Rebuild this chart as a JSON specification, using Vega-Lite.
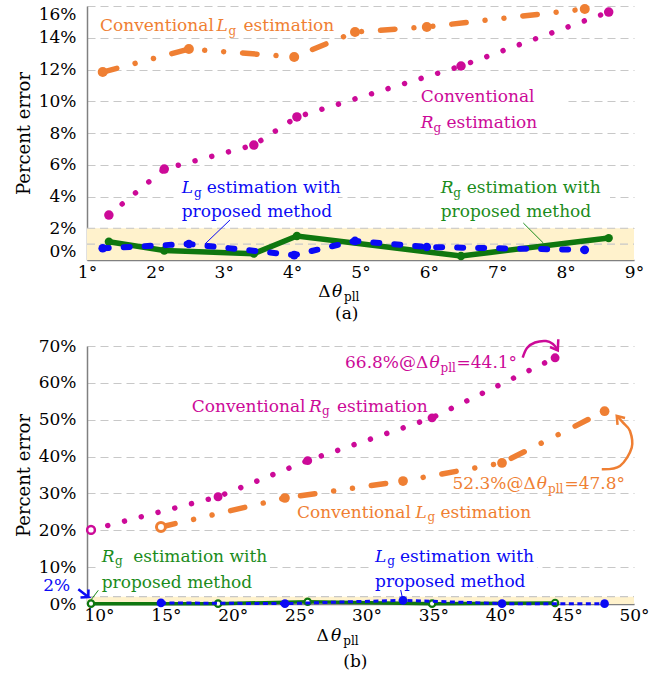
{
  "$schema": "https://vega.github.io/schema/vega-lite/v6.json",
  "background": "white",
  "padding": {"left": 15, "top": -2, "right": 5, "bottom": 0},
  "spacing": 11,
  "config": {
    "font": "DejaVu Serif",
    "view": {"stroke": null},
    "text": {"font": "DejaVu Serif"},
    "axis": {"labelFont": "DejaVu Serif", "labelFontSize": 17, "labelColor": "#000000", "titleFont": "DejaVu Serif", "titleFontSize": 18, "titleFontWeight": "normal", "titleColor": "#000000", "domainColor": "#808080", "domainWidth": 1.5, "ticks": false, "gridColor": "#c8c8c8", "gridDash": [8, 5], "gridWidth": 1.2, "labelFlush": false, "labelOverlap": false},
    "axisX": {"grid": false, "labelPadding": 4},
    "axisY": {"labelPadding": 11, "titlePadding": 5}
  },
  "datasets": {
    "top": [
      {"s": "og", "x": 1.23, "y": 11.84}, {"s": "og", "x": 2.49, "y": 13.29}, {"s": "og", "x": 4.03, "y": 12.79}, {"s": "og", "x": 4.92, "y": 14.36}, {"s": "og", "x": 5.97, "y": 14.68}, {"s": "og", "x": 8.28, "y": 15.81},
      {"s": "mg", "x": 1.32, "y": 2.83}, {"s": "mg", "x": 2.13, "y": 5.73}, {"s": "mg", "x": 3.44, "y": 7.24}, {"s": "mg", "x": 4.07, "y": 9.01}, {"s": "mg", "x": 6.47, "y": 12.22}, {"s": "mg", "x": 8.63, "y": 15.62},
      {"s": "bl", "x": 1.23, "y": 0.74}, {"s": "bl", "x": 2.49, "y": 1.01}, {"s": "bl", "x": 4.03, "y": 0.31}, {"s": "bl", "x": 4.92, "y": 1.2}, {"s": "bl", "x": 5.97, "y": 0.82}, {"s": "bl", "x": 8.28, "y": 0.64},
      {"s": "gr", "x": 1.32, "y": 1.15}, {"s": "gr", "x": 2.13, "y": 0.6}, {"s": "gr", "x": 3.44, "y": 0.4}, {"s": "gr", "x": 4.07, "y": 1.51}, {"s": "gr", "x": 6.47, "y": 0.25}, {"s": "gr", "x": 8.63, "y": 1.38}
    ],
    "bot": [
      {"s": "og", "x": 14.63, "y": 20.9}, {"s": "og", "x": 23.9, "y": 28.76}, {"s": "og", "x": 32.73, "y": 33.37}, {"s": "og", "x": 40.13, "y": 38.26}, {"s": "og", "x": 47.8, "y": 52.3},
      {"s": "mg", "x": 9.4, "y": 20.1}, {"s": "mg", "x": 18.9, "y": 29.1}, {"s": "mg", "x": 25.6, "y": 38.9}, {"s": "mg", "x": 34.9, "y": 50.5}, {"s": "mg", "x": 44.1, "y": 66.8},
      {"s": "bl", "x": 14.63, "y": 0.3}, {"s": "bl", "x": 23.9, "y": 0.1}, {"s": "bl", "x": 32.73, "y": 1.0}, {"s": "bl", "x": 40.13, "y": 0.1}, {"s": "bl", "x": 47.8, "y": 0.1},
      {"s": "gr", "x": 9.4, "y": 0.1}, {"s": "gr", "x": 18.9, "y": 0.1}, {"s": "gr", "x": 25.6, "y": 0.6}, {"s": "gr", "x": 34.9, "y": 0.1}, {"s": "gr", "x": 44.1, "y": 0.3}
    ],
    "band_top": [{"x": 1, "x2": 9, "y": 0, "y2": 2}],
    "band_bot": [{"x": 9.1, "x2": 50, "y": 0, "y2": 2}],
    "rule_top": [{"x": 1, "x2": 9, "y": 1}, {"x": 1, "x2": 9, "y": 2}],
    "rule_bot": [{"x": 9.1, "x2": 50, "y": 2}],
    "mask_top": [
      {"x": 2.302, "x2": 4.671, "y": 2.7, "y2": 5.2},
      {"x": 6.104, "x2": 8.649, "y": 2.7, "y2": 5.2},
      {"x": 5.826, "x2": 8.035, "y": 8.38, "y2": 11.09}
    ],
    "mask_bot": [
      {"x": 10.07, "x2": 22.78, "y": 2.98, "y2": 15.74},
      {"x": 30.485, "x2": 42.747, "y": 2.98, "y2": 15.74}
    ],
    "top_main": [
      {"x": 1.19, "y": 14.394, "text": "Conventional", "s": "og"},
      {"x": 3.289, "y": 14.394, "text": "estimation", "s": "og"},
      {"x": 5.88, "y": 9.934, "text": "Conventional", "s": "mg"},
      {"x": 6.258, "y": 8.296, "text": "estimation", "s": "mg"},
      {"x": 2.751, "y": 4.202, "text": "estimation with", "s": "bl"},
      {"x": 2.385, "y": 2.69, "text": "proposed method", "s": "bl"},
      {"x": 6.553, "y": 4.202, "text": "estimation with", "s": "gr"},
      {"x": 6.173, "y": 2.69, "text": "proposed method", "s": "gr"},
      {"x": 4.383, "y": -2.35, "text": "Δ", "s": "k"},
      {"x": 4.627, "y": -3.717, "text": "(a)", "s": "k"}
    ],
    "top_ital": [
      {"x": 2.894, "y": 14.394, "text": "L", "s": "og"},
      {"x": 5.88, "y": 8.296, "text": "R", "s": "mg"},
      {"x": 2.385, "y": 4.202, "text": "L", "s": "bl"},
      {"x": 6.173, "y": 4.202, "text": "R", "s": "gr"},
      {"x": 4.583, "y": -2.35, "text": "θ", "s": "k"}
    ],
    "top_sub": [
      {"x": 3.069, "y": 14.173, "text": "g", "s": "og"},
      {"x": 6.068, "y": 8.063, "text": "g", "s": "mg"},
      {"x": 2.565, "y": 3.981, "text": "g", "s": "bl"},
      {"x": 6.357, "y": 3.981, "text": "g", "s": "gr"},
      {"x": 4.759, "y": -2.583, "text": "pll", "s": "k"}
    ],
    "top_lead": [
      {"id": "b", "k": 0, "x": 3.091, "y": 2.52, "s": "bl"}, {"id": "b", "k": 1, "x": 2.726, "y": 1.01, "s": "bl"},
      {"id": "g", "k": 0, "x": 7.381, "y": 2.33, "s": "gr"}, {"id": "g", "k": 1, "x": 7.674, "y": 1.07, "s": "gr"}
    ],
    "bot_main": [
      {"x": 28.391, "y": 63.95, "text": "66.8%@Δ", "s": "mg"},
      {"x": 36.728, "y": 63.95, "text": "=44.1°", "s": "mg"},
      {"x": 16.929, "y": 52.17, "text": "Conventional", "s": "mg"},
      {"x": 27.793, "y": 52.17, "text": "estimation", "s": "mg"},
      {"x": 36.429, "y": 31.12, "text": "52.3%@Δ", "s": "og"},
      {"x": 44.796, "y": 31.12, "text": "=47.8°", "s": "og"},
      {"x": 24.802, "y": 23.41, "text": "Conventional", "s": "og"},
      {"x": 35.532, "y": 23.41, "text": "estimation", "s": "og"},
      {"x": 12.562, "y": 11.4, "text": "estimation with", "s": "gr"},
      {"x": 10.199, "y": 4.42, "text": "proposed method", "s": "gr"},
      {"x": 5.832, "y": 3.53, "text": "2%", "s": "bl"},
      {"x": 32.504, "y": 11.4, "text": "estimation with", "s": "bl"},
      {"x": 30.634, "y": 4.61, "text": "proposed method", "s": "bl"},
      {"x": 26.268, "y": -10.04, "text": "Δ", "s": "k"},
      {"x": 28.264, "y": -17.09, "text": "(b)", "s": "k"}
    ],
    "bot_ital": [
      {"x": 34.71, "y": 63.95, "text": "θ", "s": "mg"},
      {"x": 25.699, "y": 52.17, "text": "R", "s": "mg"},
      {"x": 42.732, "y": 31.12, "text": "θ", "s": "og"},
      {"x": 33.67, "y": 23.41, "text": "L", "s": "og"},
      {"x": 10.199, "y": 11.4, "text": "R", "s": "gr"},
      {"x": 30.634, "y": 11.4, "text": "L", "s": "bl"},
      {"x": 27.344, "y": -10.04, "text": "θ", "s": "k"}
    ],
    "bot_sub": [
      {"x": 35.532, "y": 63.0, "text": "pll", "s": "mg"},
      {"x": 26.671, "y": 51.23, "text": "g", "s": "mg"},
      {"x": 43.57, "y": 30.17, "text": "pll", "s": "og"},
      {"x": 34.552, "y": 22.47, "text": "g", "s": "og"},
      {"x": 11.194, "y": 10.45, "text": "g", "s": "gr"},
      {"x": 31.554, "y": 10.45, "text": "g", "s": "bl"},
      {"x": 28.264, "y": -10.99, "text": "pll", "s": "k"}
    ],
    "bot_lead": [
      {"id": "g", "k": 0, "x": 9.945, "y": 3.72, "s": "gr"}, {"id": "g", "k": 1, "x": 9.377, "y": 1.0, "s": "gr"},
      {"id": "b", "k": 0, "x": 32.556, "y": 3.8, "s": "bl"}, {"id": "b", "k": 1, "x": 32.706, "y": 1.28, "s": "bl"}
    ],
    "bot_curve": [
      {"id": "m", "k": 0, "x": 41.68, "y": 66.83, "s": "mg"}, {"id": "m", "k": 1, "x": 42.0, "y": 69.46, "s": "mg"}, {"id": "m", "k": 2, "x": 42.6, "y": 70.95, "s": "mg"}, {"id": "m", "k": 3, "x": 43.42, "y": 71.36, "s": "mg"}, {"id": "m", "k": 4, "x": 43.94, "y": 70.54, "s": "mg"}, {"id": "m", "k": 5, "x": 44.28, "y": 68.92, "s": "mg"},
      {"id": "o", "k": 0, "x": 47.59, "y": 36.55, "s": "og"}, {"id": "o", "k": 1, "x": 48.95, "y": 37.44, "s": "og"}, {"id": "o", "k": 2, "x": 49.83, "y": 42.41, "s": "og"}, {"id": "o", "k": 3, "x": 49.7, "y": 46.94, "s": "og"}, {"id": "o", "k": 4, "x": 49.18, "y": 49.19, "s": "og"}, {"id": "o", "k": 5, "x": 48.71, "y": 51.01, "s": "og"}
    ],
    "bot_head": [
      {"id": "mh", "k": 0, "x": 43.72, "y": 69.73, "s": "mg"}, {"id": "mh", "k": 1, "x": 44.3, "y": 68.83, "s": "mg"}, {"id": "mh", "k": 2, "x": 44.34, "y": 71.82, "s": "mg"},
      {"id": "oh", "k": 0, "x": 49.33, "y": 50.47, "s": "og"}, {"id": "oh", "k": 1, "x": 48.71, "y": 51.01, "s": "og"}, {"id": "oh", "k": 2, "x": 48.77, "y": 48.57, "s": "og"},
      {"id": "bh", "k": 0, "x": 8.45, "y": 3.99, "s": "bl"}, {"id": "bh", "k": 1, "x": 9.197, "y": 1.9, "s": "bl"}, {"id": "bh", "k": 2, "x": 8.614, "y": 1.76, "s": "bl"}, {"id": "bh", "k": 3, "x": 9.197, "y": 1.9, "s": "bl"}, {"id": "bh", "k": 4, "x": 9.212, "y": 3.93, "s": "bl"}
    ]
  },
  "vconcat": [
    {
      "width": 547,
      "height": 254,
      "encoding": {
        "x": {"field": "x", "type": "quantitative", "scale": {"domain": [1, 9], "nice": false, "zero": false}, "axis": {"values": [1, 2, 3, 4, 5, 6, 7, 8, 9], "labelExpr": "datum.value + '°'", "title": null}},
        "y": {"field": "y", "type": "quantitative", "scale": {"domain": [0, 16], "nice": false}, "axis": {"values": [0, 2, 4, 6, 8, 10, 12, 14, 16], "labelExpr": "datum.value + '%'", "title": "Percent error", "labelFlush": true}}
      },
      "layer": [
        {"data": {"name": "band_top"}, "mark": {"type": "rect", "color": "#FFF2CC"}, "encoding": {"x2": {"field": "x2"}, "y2": {"field": "y2"}}},
        {"data": {"name": "rule_top"}, "mark": {"type": "rule", "color": "#c8c8c8", "strokeDash": [8, 5], "strokeWidth": 1.2}, "encoding": {"x2": {"field": "x2"}}},
        {"data": {"name": "mask_top"}, "mark": {"type": "rect", "color": "white"}, "encoding": {"x2": {"field": "x2"}, "y2": {"field": "y2"}}},
        {"data": {"name": "top"}, "transform": [{"filter": "datum.s == 'og'"}], "mark": {"type": "line", "color": "#EF7F33", "strokeWidth": 5.5, "strokeCap": "round", "strokeDash": [14.5, 19, 0.01, 19, 0.01, 19]}, "encoding": {}},
        {"data": {"name": "top"}, "transform": [{"filter": "datum.s == 'og'"}], "mark": {"type": "point", "filled": true, "color": "#EF7F33", "size": 100, "opacity": 1}, "encoding": {}},
        {"data": {"name": "top"}, "transform": [{"filter": "datum.s == 'mg'"}], "mark": {"type": "line", "color": "#CC0A98", "strokeWidth": 5.5, "strokeCap": "round", "strokeDash": [0.01, 17.3]}, "encoding": {}},
        {"data": {"name": "top"}, "transform": [{"filter": "datum.s == 'mg'"}], "mark": {"type": "point", "filled": true, "color": "#CC0A98", "size": 90, "opacity": 1}, "encoding": {}},
        {"data": {"name": "top"}, "transform": [{"filter": "datum.s == 'gr'"}], "mark": {"type": "line", "color": "#0F770F", "strokeWidth": 5.5}, "encoding": {}},
        {"data": {"name": "top"}, "transform": [{"filter": "datum.s == 'gr'"}], "mark": {"type": "point", "filled": true, "color": "#0F770F", "size": 70, "opacity": 1}, "encoding": {}},
        {"data": {"name": "top"}, "transform": [{"filter": "datum.s == 'bl'"}], "mark": {"type": "line", "color": "#0A0AF5", "strokeWidth": 6, "strokeCap": "round", "strokeDash": [6, 15]}, "encoding": {}},
        {"data": {"name": "top"}, "transform": [{"filter": "datum.s == 'bl'"}], "mark": {"type": "point", "filled": true, "color": "#0A0AF5", "size": 75, "opacity": 1}, "encoding": {}},
        {"data": {"name": "top_lead"}, "mark": {"type": "line", "strokeWidth": 1}, "encoding": {"detail": {"field": "id"}, "order": {"field": "k"}, "color": {"field": "s", "type": "nominal", "legend": null, "scale": {"domain": ["og", "mg", "bl", "gr", "k"], "range": ["#EF7F33", "#CC0A98", "#0A0AF5", "#1B8C1B", "#000000"]}}}},
        {"data": {"name": "top_main"}, "mark": {"type": "text", "align": "left", "baseline": "alphabetic", "fontSize": 17}, "encoding": {"text": {"field": "text"}, "color": {"field": "s", "type": "nominal", "legend": null, "scale": {"domain": ["og", "mg", "bl", "gr", "k"], "range": ["#EF7F33", "#CC0A98", "#0A0AF5", "#1B8C1B", "#000000"]}}}},
        {"data": {"name": "top_ital"}, "mark": {"type": "text", "align": "left", "baseline": "alphabetic", "fontSize": 17, "fontStyle": "italic"}, "encoding": {"text": {"field": "text"}, "color": {"field": "s", "type": "nominal", "legend": null, "scale": {"domain": ["og", "mg", "bl", "gr", "k"], "range": ["#EF7F33", "#CC0A98", "#0A0AF5", "#1B8C1B", "#000000"]}}}},
        {"data": {"name": "top_sub"}, "mark": {"type": "text", "align": "left", "baseline": "alphabetic", "fontSize": 12}, "encoding": {"text": {"field": "text"}, "color": {"field": "s", "type": "nominal", "legend": null, "scale": {"domain": ["og", "mg", "bl", "gr", "k"], "range": ["#EF7F33", "#CC0A98", "#0A0AF5", "#1B8C1B", "#000000"]}}}}
      ]
    },
    {
      "width": 547,
      "height": 258,
      "encoding": {
        "x": {"field": "x", "type": "quantitative", "scale": {"domain": [9.1, 50], "nice": false, "zero": false}, "axis": {"values": [10, 15, 20, 25, 30, 35, 40, 45, 50], "labelExpr": "datum.value + '°'", "title": null, "labelPadding": 3}},
        "y": {"field": "y", "type": "quantitative", "scale": {"domain": [0, 70], "nice": false}, "axis": {"values": [0, 10, 20, 30, 40, 50, 60, 70], "labelExpr": "datum.value + '%'", "title": "Percent error"}}
      },
      "layer": [
        {"data": {"name": "band_bot"}, "mark": {"type": "rect", "color": "#FFF2CC"}, "encoding": {"x2": {"field": "x2"}, "y2": {"field": "y2"}}},
        {"data": {"name": "rule_bot"}, "mark": {"type": "rule", "color": "#c8c8c8", "strokeDash": [8, 5], "strokeWidth": 1.2}, "encoding": {"x2": {"field": "x2"}}},
        {"data": {"name": "mask_bot"}, "mark": {"type": "rect", "color": "white"}, "encoding": {"x2": {"field": "x2"}, "y2": {"field": "y2"}}},
        {"data": {"name": "bot"}, "transform": [{"filter": "datum.s == 'og'"}], "mark": {"type": "line", "color": "#EF7F33", "strokeWidth": 5.5, "strokeCap": "round", "strokeDash": [14.5, 19, 0.01, 19, 0.01, 19]}, "encoding": {}},
        {"data": {"name": "bot"}, "transform": [{"filter": "datum.s == 'og'"}], "mark": {"type": "point", "filled": true, "color": "#EF7F33", "size": 95, "opacity": 1}, "encoding": {}},
        {"data": {"name": "bot"}, "transform": [{"filter": "datum.s == 'og' && datum.x < 15"}], "mark": {"type": "point", "filled": true, "fill": "white", "stroke": "#EF7F33", "strokeWidth": 3, "size": 80, "opacity": 1}, "encoding": {}},
        {"data": {"name": "bot"}, "transform": [{"filter": "datum.s == 'mg'"}], "mark": {"type": "line", "color": "#CC0A98", "strokeWidth": 5.5, "strokeCap": "round", "strokeDash": [0.01, 17.3]}, "encoding": {}},
        {"data": {"name": "bot"}, "transform": [{"filter": "datum.s == 'mg'"}], "mark": {"type": "point", "filled": true, "color": "#CC0A98", "size": 80, "opacity": 1}, "encoding": {}},
        {"data": {"name": "bot"}, "transform": [{"filter": "datum.s == 'mg' && datum.x < 10"}], "mark": {"type": "point", "filled": true, "fill": "white", "stroke": "#CC0A98", "strokeWidth": 2.5, "size": 60, "opacity": 1}, "encoding": {}},
        {"data": {"name": "bot"}, "transform": [{"filter": "datum.s == 'gr'"}], "mark": {"type": "line", "color": "#0F770F", "strokeWidth": 3.5}, "encoding": {}},
        {"data": {"name": "bot"}, "transform": [{"filter": "datum.s == 'gr'"}], "mark": {"type": "point", "filled": true, "fill": "white", "stroke": "#0F770F", "strokeWidth": 2.2, "size": 40, "opacity": 1}, "encoding": {}},
        {"data": {"name": "bot"}, "transform": [{"filter": "datum.s == 'bl'"}], "mark": {"type": "line", "color": "#0A0AF5", "strokeWidth": 3, "strokeDash": [5, 3.5]}, "encoding": {}},
        {"data": {"name": "bot"}, "transform": [{"filter": "datum.s == 'bl'"}], "mark": {"type": "point", "filled": true, "color": "#0A0AF5", "size": 75, "opacity": 1}, "encoding": {}},
        {"data": {"name": "bot_lead"}, "mark": {"type": "line", "strokeWidth": 1}, "encoding": {"detail": {"field": "id"}, "order": {"field": "k"}, "color": {"field": "s", "type": "nominal", "legend": null, "scale": {"domain": ["og", "mg", "bl", "gr", "k"], "range": ["#EF7F33", "#CC0A98", "#0A0AF5", "#1B8C1B", "#000000"]}}}},
        {"data": {"name": "bot_curve"}, "mark": {"type": "line", "strokeWidth": 2.5, "interpolate": "cardinal"}, "encoding": {"detail": {"field": "id"}, "order": {"field": "k"}, "color": {"field": "s", "type": "nominal", "legend": null, "scale": {"domain": ["og", "mg", "bl", "gr", "k"], "range": ["#EF7F33", "#CC0A98", "#0A0AF5", "#1B8C1B", "#000000"]}}}},
        {"data": {"name": "bot_head"}, "mark": {"type": "line", "strokeWidth": 2.5, "strokeJoin": "miter"}, "encoding": {"detail": {"field": "id"}, "order": {"field": "k"}, "color": {"field": "s", "type": "nominal", "legend": null, "scale": {"domain": ["og", "mg", "bl", "gr", "k"], "range": ["#EF7F33", "#CC0A98", "#0A0AF5", "#1B8C1B", "#000000"]}}}},
        {"data": {"name": "bot_main"}, "mark": {"type": "text", "align": "left", "baseline": "alphabetic", "fontSize": 17}, "encoding": {"text": {"field": "text"}, "color": {"field": "s", "type": "nominal", "legend": null, "scale": {"domain": ["og", "mg", "bl", "gr", "k"], "range": ["#EF7F33", "#CC0A98", "#0A0AF5", "#1B8C1B", "#000000"]}}}},
        {"data": {"name": "bot_ital"}, "mark": {"type": "text", "align": "left", "baseline": "alphabetic", "fontSize": 17, "fontStyle": "italic"}, "encoding": {"text": {"field": "text"}, "color": {"field": "s", "type": "nominal", "legend": null, "scale": {"domain": ["og", "mg", "bl", "gr", "k"], "range": ["#EF7F33", "#CC0A98", "#0A0AF5", "#1B8C1B", "#000000"]}}}},
        {"data": {"name": "bot_sub"}, "mark": {"type": "text", "align": "left", "baseline": "alphabetic", "fontSize": 12}, "encoding": {"text": {"field": "text"}, "color": {"field": "s", "type": "nominal", "legend": null, "scale": {"domain": ["og", "mg", "bl", "gr", "k"], "range": ["#EF7F33", "#CC0A98", "#0A0AF5", "#1B8C1B", "#000000"]}}}}
      ]
    }
  ]
}
